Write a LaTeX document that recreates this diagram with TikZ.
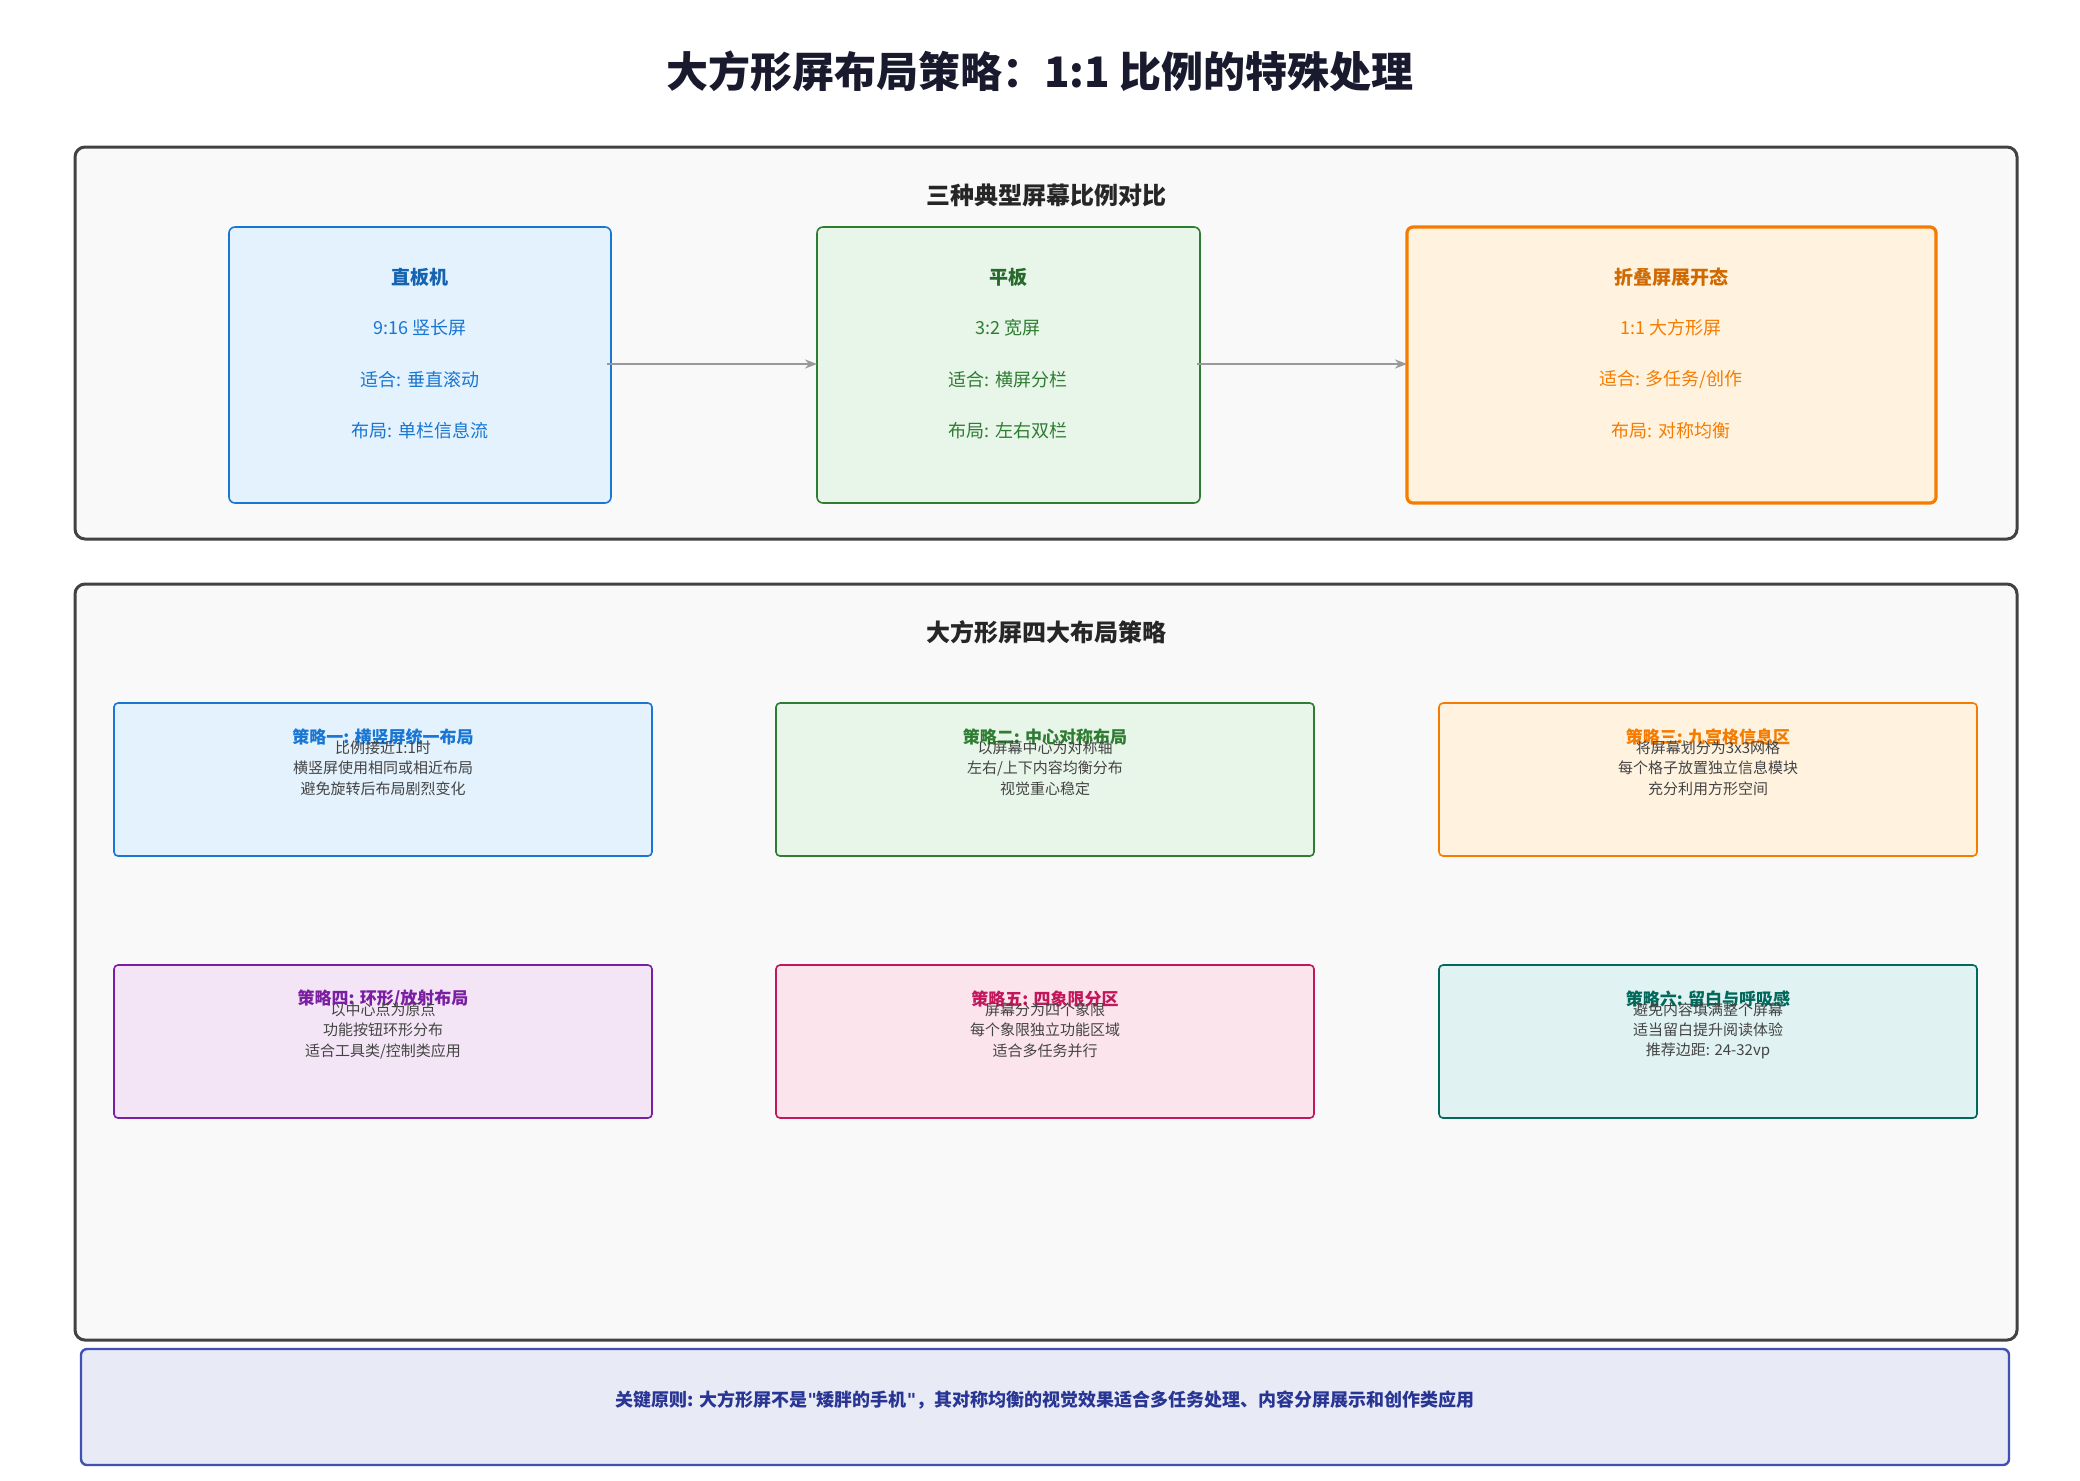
\documentclass[tikz,border=0pt]{standalone}
\usepackage{fontspec}
\setmainfont{Noto Sans CJK SC}
\newfontfamily\qfont{DejaVu Sans}
\usetikzlibrary{arrows.meta}
\definecolor{ink}{HTML}{1A1A2E}
\definecolor{panelbg}{HTML}{F9F9F9}
\definecolor{panelfg}{HTML}{424242}
\definecolor{txt}{HTML}{444444}
\definecolor{bluefg}{HTML}{1976D2}\definecolor{bluebg}{HTML}{E3F2FD}
\definecolor{greenfg}{HTML}{2E7D32}\definecolor{greenbg}{HTML}{E8F5E9}
\definecolor{orangefg}{HTML}{F57C00}\definecolor{orangebg}{HTML}{FFF3E0}
\definecolor{purplefg}{HTML}{7B1FA2}\definecolor{purplebg}{HTML}{F3E5F5}
\definecolor{pinkfg}{HTML}{C2185B}\definecolor{pinkbg}{HTML}{FCE4EC}
\definecolor{tealfg}{HTML}{00695C}\definecolor{tealbg}{HTML}{E0F2F1}
\definecolor{keyfg}{HTML}{3F51B5}\definecolor{keybg}{HTML}{E8EAF6}\definecolor{keytxt}{HTML}{283593}
\tikzset{
every node/.style={inner sep=0pt},
panel/.style={draw=panelfg, fill=panelbg, line width=1.5pt, rounded corners=5pt},
screen/.style={line width=0.8pt, rounded corners=3pt},
plan/.style={line width=0.8pt, rounded corners=2pt},
head/.style={font=\bfseries\fontsize{12}{14}\selectfont, text=black!85},
line/.style={font=\fontsize{9}{11}\selectfont},
tip/.style={font=\fontsize{7.5}{9}\selectfont, text=txt},
link/.style={draw=gray!80, line width=1pt, -{Stealth[length=6pt]}}
}
\begin{document}
\begin{tikzpicture}[x=0.5pt, y=-0.5pt]
\useasboundingbox (0,0) rectangle (2080,1480);
\fill[white] (0,0) rectangle (2080,1480);
\node [font=\bfseries\fontsize{21}{25}\selectfont, text=ink] (title) at (1040,71) {大方形屏布局策略：1:1 比例的特殊处理};

% ratio panel
\draw[panel] (75,147) rectangle (2017,539);
\node [head] (ratiohead) at (1046,195) {三种典型屏幕比例对比};
\draw[screen, draw=bluefg, fill=bluebg] (229,227) rectangle (611,503);
\draw[screen, draw=greenfg, fill=greenbg] (817,227) rectangle (1200,503);
\draw[screen, draw=orangefg, fill=orangebg, line width=1.6pt] (1407,227) rectangle (1936,503);
\coordinate (phoneR) at (607,364);
\coordinate (tabL) at (817,364);
\coordinate (tabR) at (1197,364);
\coordinate (foldL) at (1407,364);
\foreach \x/\c/\a/\b/\s/\l in {420/bluefg/直板机/9:16 竖长屏/垂直滚动/单栏信息流,
  1008/greenfg/平板/3:2 宽屏/横屏分栏/左右双栏,
  1671/orangefg/折叠屏展开态/1:1 大方形屏/{多任务/创作}/对称均衡}{
  \node [line, font=\bfseries\fontsize{9.5}{11}\selectfont, text=\c!85!black] at (\x,277) {\a};
  \node [line, text=\c] at (\x,328) {\b};
  \node [line, text=\c] at (\x,380) {适合: \s};
  \node [line, text=\c] at (\x,431) {布局: \l};
}
\draw[link] (phoneR) -- (tabL);
\draw[link] (tabR) -- (foldL);

% strategy panel
\draw[panel] (75,584) rectangle (2017,1340);
\node [head] (planhead) at (1046,632) {大方形屏四大布局策略};
\foreach \x/\y/\c/\t/\p/\q/\r in {
  383/703/blue/策略一: 横竖屏统一布局/比例接近1:1时/横竖屏使用相同或相近布局/避免旋转后布局剧烈变化,
  1045/703/green/策略二: 中心对称布局/以屏幕中心为对称轴/{左右/上下内容均衡分布}/视觉重心稳定,
  1708/703/orange/策略三: 九宫格信息区/将屏幕划分为3x3网格/每个格子放置独立信息模块/充分利用方形空间,
  383/965/purple/{策略四: 环形/放射布局}/以中心点为原点/功能按钮环形分布/{适合工具类/控制类应用},
  1045/965/pink/策略五: 四象限分区/屏幕分为四个象限/每个象限独立功能区域/适合多任务并行,
  1708/965/teal/策略六: 留白与呼吸感/避免内容填满整个屏幕/适当留白提升阅读体验/推荐边距: 24-32vp}{
  \draw[plan, draw=\c fg, fill=\c bg] (\x-269,\y) rectangle (\x+269,\y+153);
  \node [font=\bfseries\fontsize{8.5}{10}\selectfont, text=\c fg] at (\x,\y+34) {\t};
  \node [tip] at (\x,\y+45) {\p};
  \node [tip] at (\x,\y+65) {\q};
  \node [tip] at (\x,\y+86) {\r};
}

% key principle
\draw[draw=keyfg, fill=keybg, line width=1.2pt, rounded corners=3pt] (81,1349) rectangle (2009,1465);
\node [font=\bfseries\fontsize{9}{11}\selectfont, text=keytxt] (key) at (1045,1400) {关键原则: 大方形屏不是{\qfont"}矮胖的手机{\qfont"}，其对称均衡的视觉效果适合多任务处理、内容分屏展示和创作类应用};
\end{tikzpicture}
\end{document}
